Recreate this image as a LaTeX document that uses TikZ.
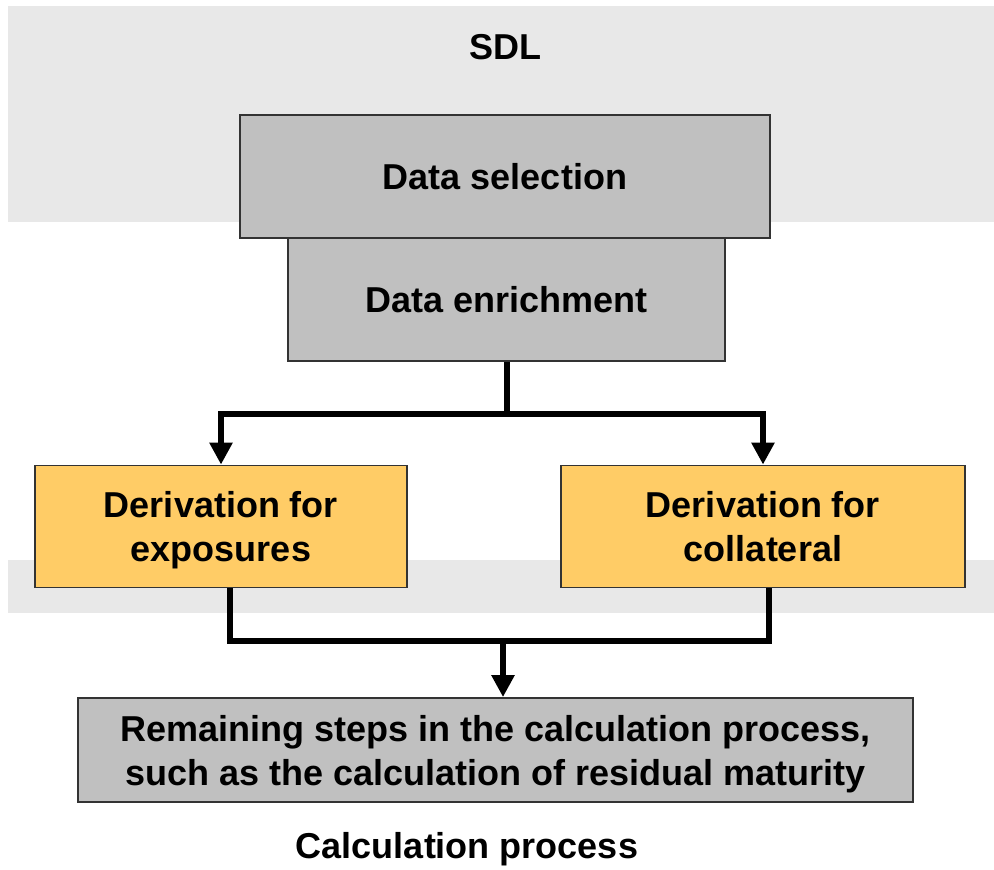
\documentclass[tikz,border=0pt]{standalone}
\usepackage{fontspec}
\setmainfont{Liberation Sans}
\usetikzlibrary{arrows.meta}
\definecolor{bandgray}{HTML}{E8E8E8}
\definecolor{boxgray}{HTML}{C0C0C0}
\definecolor{boxyellow}{HTML}{FFCC66}
\definecolor{edgegray}{HTML}{333333}
\tikzset{
  band/.style={fill=bandgray, draw=none},
  graybox/.style={draw=edgegray, line width=1.8pt, fill=boxgray, inner sep=0pt, align=center,
    font=\fontsize{36}{44}\selectfont\bfseries},
  yellowbox/.style={graybox, fill=boxyellow, text depth=0pt},
  conn/.style={line width=6pt, draw=black, line join=miter},
  arr/.style={conn, -{Triangle[width=22pt,length=22pt]}},
  lbl/.style={font=\fontsize{36}{44}\selectfont\bfseries, inner sep=0pt}
}
\begin{document}
\begin{tikzpicture}[x=1pt,y=-1pt]
\useasboundingbox (0,0) rectangle (994,870);
\fill[white] (0,0) rectangle (994,870);
% background bands
\path[band] (8,6) rectangle (994,222);
\path[band] (8,560) rectangle (994,613);
% labels
\node[lbl] (sdl) at (505,47) {SDL};
\node[lbl] (calc) at (467,849) {Calculation process};
% boxes
\node[graybox, minimum width=530pt, minimum height=123pt] (sel) at (505,176.5) {Data selection};
\node[graybox, minimum width=437pt, minimum height=123pt] (enr) at (506.5,299.5) {Data enrichment};
\node[yellowbox, minimum width=372pt, minimum height=122pt] (exp) at (221,526.5) {Derivation for\\exposures};
\node[yellowbox, minimum width=404pt, minimum height=122pt] (col) at (763,526.5) {Derivation for\\collateral};
\node[graybox, text depth=0pt, minimum width=835pt, minimum height=104pt] (rem) at (495.5,750) {Remaining steps in the calculation process,\\such as the calculation of residual maturity};
% connectors
\coordinate (j1) at (506.5,414);
\coordinate (jl) at (230,641);
\coordinate (jr) at (769,641);
\coordinate (jm) at (503,641);
\draw[conn] (enr.south) -- (j1);
\draw[arr] (j1) -| (exp.north);
\draw[arr] (j1) -| (col.north);
\draw[conn] (exp.south -| jl) -- (jl) -- (jr) -- (col.south -| jr);
\draw[arr] (jm) -- (rem.north -| jm);
\end{tikzpicture}
\end{document}
